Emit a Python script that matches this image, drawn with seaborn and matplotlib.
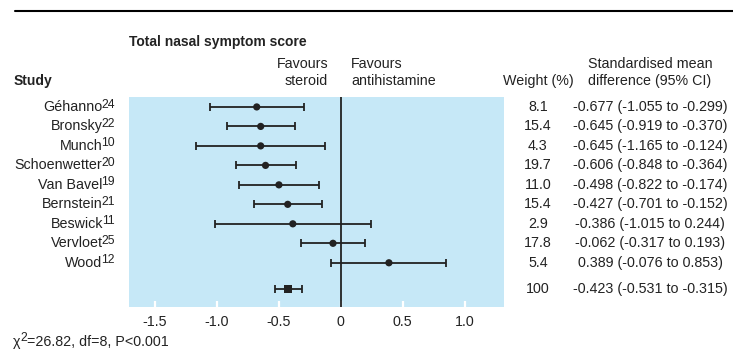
import numpy as np
import pandas as pd
import matplotlib
matplotlib.use("Agg")
import matplotlib.pyplot as plt
import matplotlib.transforms as mtransforms
from matplotlib.lines import Line2D
import seaborn as sns

# Trial-level results: standardised mean difference with 95% CI
studies = ["Géhanno", "Bronsky", "Munch", "Schoenwetter", "Van Bavel",
           "Bernstein", "Beswick", "Vervloet", "Wood"]
refs = ["24", "22", "10", "20", "19", "21", "11", "25", "12"]
weights = ["8.1", "15.4", "4.3", "19.7", "11.0", "15.4", "2.9", "17.8", "5.4"]
smd = [-0.677, -0.645, -0.645, -0.606, -0.498, -0.427, -0.386, -0.062, 0.389]
lower = [-1.055, -0.919, -1.165, -0.848, -0.822, -0.701, -1.015, -0.317, -0.076]
upper = [-0.299, -0.370, -0.124, -0.364, -0.174, -0.152, 0.244, 0.193, 0.853]

# Pooled estimate
pooled_weight = "100"
pooled_smd = -0.423
pooled_lower = -0.531
pooled_upper = -0.315

x_ticks = [-1.5, -1.0, -0.5, 0, 0.5, 1.0]
x_tick_labels = ["-1.5", "-1.0", "-0.5", "0", "0.5", "1.0"]
chi_parts = ["χ", "2", "=26.82, df=8, P<0.001"]

sns.set_theme(style="white")
FONT = "Liberation Sans"
plt.rcParams["font.family"] = [FONT, "DejaVu Sans"]

FS = 10.3
SUP = 8.8
TXT = "#222222"
PANEL = "#C6E8F7"

W, H = 733, 351
fig = plt.figure(figsize=(W / 100, H / 100), dpi=100)
ax = fig.add_axes([129 / W, 1 - 307 / H, (504 - 129) / W, (307 - 97) / H])
ax.set_facecolor(PANEL)

# Row positions: one per trial, pooled row set a little apart
rows = np.arange(len(studies), dtype=float)
pooled_row = rows[-1] + 1.35

df = pd.DataFrame({
    "smd": smd + [pooled_smd],
    "lower": lower + [pooled_lower],
    "upper": upper + [pooled_upper],
    "row": list(rows) + [pooled_row],
    "kind": ["trial"] * len(studies) + ["pooled"],
})

ax.errorbar(df["smd"], df["row"],
            xerr=[df["smd"] - df["lower"], df["upper"] - df["smd"]],
            fmt="none", ecolor=TXT, elinewidth=1.3, capsize=3, capthick=1.3,
            zorder=3)
sns.scatterplot(data=df, x="smd", y="row", style="kind",
                markers={"trial": "o", "pooled": "s"},
                size="kind", sizes={"trial": 27, "pooled": 36},
                color=TXT, edgecolor=TXT, linewidth=0, legend=False,
                ax=ax, zorder=4)

ax.axvline(0, color=TXT, lw=1.3, zorder=2)

ax.set_xlim(-1.707, 1.317)
ax.set_ylim(pooled_row + 0.92, -0.51)
for s in ax.spines.values():
    s.set_visible(False)

ax.set_xticks(x_ticks)
ax.set_xticklabels(x_tick_labels, fontsize=FS, color=TXT)
ax.tick_params(axis="x", direction="in", length=4, width=1.6, color="white",
               pad=6, bottom=True)
ax.set_yticks([])
ax.set_xlabel("")
ax.set_ylabel("")
ax.grid(False)

tr = mtransforms.blended_transform_factory(fig.transFigure, ax.transData)

# Study names with reference numbers as superscripts
for r, name, ref in zip(rows, studies, refs):
    sup = ax.text(115 / W, r + 0.03, ref, transform=tr, ha="right",
                  va="baseline", fontsize=SUP, color=TXT)
    ax.annotate(name, xy=(0, r), xycoords=(sup, ax.transData),
                xytext=(0.8, 0), textcoords="offset points",
                ha="right", va="center", fontsize=FS, color=TXT,
                annotation_clip=False)

# Right-hand columns aligned to the data rows
for r, w, m, lo, hi in zip(list(rows) + [pooled_row],
                           weights + [pooled_weight],
                           smd + [pooled_smd], lower + [pooled_lower],
                           upper + [pooled_upper]):
    ax.text(538 / W, r, w, transform=tr, ha="center", va="center",
            fontsize=FS, color=TXT)
    ax.text(650 / W, r, f"{m:.3f} ({lo:.3f} to {hi:.3f})", transform=tr,
            ha="center", va="center", fontsize=FS, color=TXT)

def ftext(x, y, s, **kw):
    kw.setdefault("fontsize", FS)
    kw.setdefault("color", TXT)
    return fig.text(x / W, 1 - y / H, s, **kw)

ftext(129, 42, "Total nasal symptom score", ha="left", va="center",
      fontweight="bold", fontsize=10)
ftext(14, 81, "Study", ha="left", va="center", fontweight="bold", fontsize=10)
ftext(328, 64, "Favours", ha="right", va="center")
ftext(328, 81, "steroid", ha="right", va="center")
ftext(351, 64, "Favours", ha="left", va="center")
ftext(351, 81, "antihistamine", ha="left", va="center")
ftext(538, 81, "Weight (%)", ha="center", va="center")
ftext(650, 64, "Standardised mean", ha="center", va="center")
ftext(650, 81, "difference (95% CI)", ha="center", va="center")

# Heterogeneity statistic along the bottom edge
base_y = H - 346
chi = fig.text(13 / W, base_y / H, chi_parts[0], ha="left", va="baseline",
               fontsize=FS, color=TXT)
two = ax.annotate(chi_parts[1], xy=(1, base_y + 5),
                  xycoords=(chi, "figure pixels"), ha="left",
                  va="baseline", fontsize=SUP, color=TXT,
                  annotation_clip=False)
ax.annotate(chi_parts[2], xy=(1, base_y), xycoords=(two, "figure pixels"),
            ha="left", va="baseline", fontsize=FS, color=TXT,
            annotation_clip=False)

fig.add_artist(Line2D([15 / W, 1.0], [1 - 11 / H] * 2,
                      transform=fig.transFigure, color="black", lw=1.5))

fig.savefig("out.png", dpi=100)
